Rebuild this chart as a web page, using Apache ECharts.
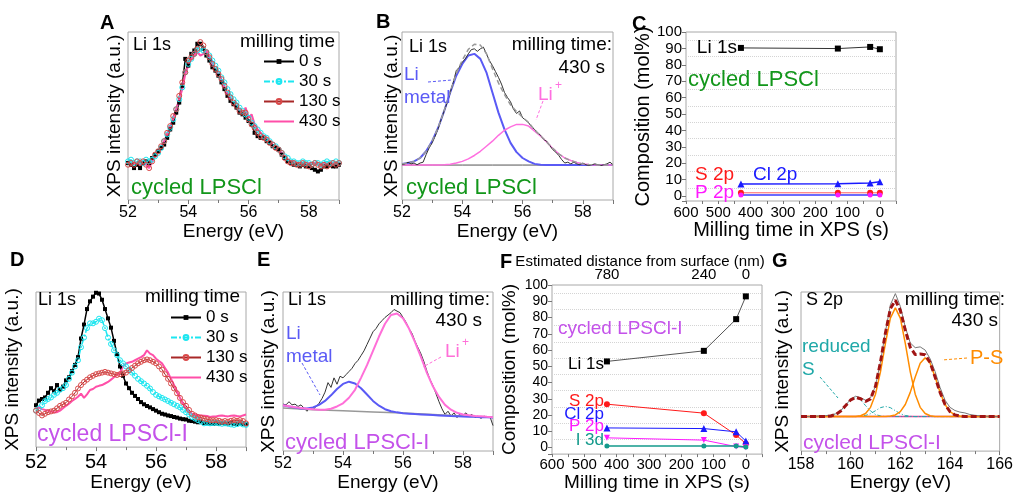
<!DOCTYPE html>
<html><head><meta charset="utf-8">
<script src="https://cdn.jsdelivr.net/npm/echarts@6/dist/echarts.min.js"></script>
<style>html,body{margin:0;padding:0;background:#fff}#c{width:1016px;height:493px}</style>
</head><body><div id="c"></div>
<script>
// ================= DATA =================
// Li 1s spectra sampling (eV)
const liStart = 52.0, rawStep = 0.1, fitStep = 0.2, bgStep = 1.0;
const sStart = 158.0, sStep = 0.2;
const timeTags = ['0 s', '30 s', '130 s', '430 s'];

// Panel A: cycled LPSCl, Li 1s at different milling times (52.0 ... 59.0, step 0.1)
const aLi0 = [22,21,19,21,19,22,23,22,25,27, 29,31,33,37,42,46,52,58,68,84, 80,87,89,93,93,90,86,83,79,77, 74,70,66,62,59,57,55,52,51,49, 47,45,40,38,37,37,35,34,32,31, 30,27,25,23,22,21,21,20,21,20, 20,19,18,17,18,20,20,21,20,20,21];
const aLi30 = [23,24,22,23,23,22,24,23,24,26, 28,31,35,39,43,48,54,60,67,76, 81,84,87,89,90,89,88,86,83,80, 77,73,70,66,63,60,58,55,53,51, 49,46,44,42,40,38,37,35,33,32, 30,28,26,25,23,23,22,22,23,22, 22,21,22,22,21,22,23,22,22,23,22];
const aLi130 = [21,22,21,23,22,23,21,19,23,27, 29,32,35,40,44,50,54,62,70,76, 83,85,87,90,94,92,88,85,81,78, 75,72,68,64,61,58,56,53,52,52, 48,45,43,40,38,37,36,34,33,31, 30,28,25,23,22,22,21,21,22,21, 20,21,22,21,20,21,20,21,22,21,22];
const aLi430 = [22,21,22,22,21,22,21,19,23,26, 29,32,35,39,44,48,54,60,66,75, 80,84,86,88,86,87,89,85,81,77, 75,71,67,63,60,57,56,53,51,55, 49,51,45,42,40,38,36,35,33,31, 30,28,26,24,23,23,22,22,22,21, 22,22,22,21,21,22,21,22,22,21,22];

// Panel B: LPSCl 430 s fit
const bData = [21,21.5,22.5,21.5,22,21,22,22.5,27,31, 34,38,42.5,48,53,58,64,70,77,79, 82,84,87,89.5,90,88.5,90,91,87,83, 80,76.5,73,69,64,61,58.5,54,51.5,53, 49,47.5,46,43.5,42,40,38.5,36,35,32.5, 30,28.5,26.5,24,22,22.5,21.5,22.5,21.5,21, 22,21,20.5,21,21.5,21,20.5,21,21.5,22.5,21];
const bMetal = [21.5,22,23,25,29,35,43,53,64,74, 81,86,87,84,76,64,52,42,34,28.5, 25,23,21.5,21,20.8,20.8,20.8,20.8,20.8,20.8, 20.8,20.8,20.8,20.8,20.8,20.8];
const bLiPlus = [20.8,20.8,20.8,20.8,20.8,20.8,20.9,21,21.3,22, 23,24.5,26.5,29,32,35,38.5,41.5,43.5,45, 45,44,41,38,34.5,30.7,27.5,25,23.5,22.3, 21.5,21.1,20.9,20.8,20.8,20.8];
const bEnvelope = [21.5,22,23,25,29,35,43.1,53.2,64.5,75.2, 83.2,89.7,92.7,92.2,87.2,78.2,69.7,62.7,56.7,52.7, 49.2,46.2,41.7,38.2,34.5,30.7,27.5,25,23.5,22.3, 21.5,21.1,20.9,20.8,20.8,20.8];
const bBackground = [20.8,20.8,20.8,20.8,20.8,20.8,20.8,20.8];

// Panels C and F: composition vs milling time
const millTimes = [430, 130, 30, 0];
const cLi = [90.3, 89.9, 90.9, 89.5];
const cCl = [7.3, 7.5, 7.9, 8.7];
const cS  = [2.0, 2.0, 2.0, 2.0];
const cP  = [0.6, 0.6, 0.6, 0.6];
const fLi = [53, 59.5, 79, 93];
const fS  = [26.7, 21.2, 7.7, 2.4];
const fCl = [12.1, 11.7, 9.7, 4.0];
const fP  = [6.0, 4.6, 0.6, 0.2];
const fI  = [1.0, 1.0, 1.0, 0.4];
const depthTimes = [430, 130, 0];
const depthLabels = ['780', '240', '0'];

// Panel D: cycled LPSCl-I, Li 1s (52.0 ... 59.0, step 0.1)
const dLi0 = [27,30,31,32,35,38,36,40,37,39, 43,45,49,53,58,70,79,89,94,97, 99.5,99,95,89,83,77,68.5,60,52,46, 41,38,35,33,31,29,27.6,26.5,25.6,24.5, 23.5,22.5,21.5,21,20.4,20,19.4,19,18.4,18, 17.8,17,16.8,16.4,16,16.5,15.5,15.5,15.2,15, 15.3,15,15.5,15,15.2,15.5,15,14.8,15.2,15,14.8];
const dLi30 = [23.5,25,27,29.7,31,32,33.7,35,37,38, 40,44,48,52,56,64.4,70.6,76.7,79.8,79.8, 80.8,82.8,81.8,76.7,70.6,66.5,62.4,59.3,56,54, 52,50,48,46,44,42.5,41,39.5,37.8,35.5, 33.7,32.7,31.7,30.7,29.7,28.6,27.6,26.6,25.6,24, 22.5,21,19.4,18.4,17.4,16.4,15.3,15.5,15.3,15.5, 15.7,15.3,15,15.3,15,14.6,14.3,14.8,15.3,14.6,14.3];
const dLi130 = [23.5,22,20.4,21.5,22.5,23,23.5,25,26.6,27.6, 28.6,30.7,32.7,35,37.8,40,42,43.5,45,46, 47,47.5,48,48.5,48,47.5,47,46.5,47,47.5, 48,49.5,51,52.5,54,55,56,56.5,56,55, 54,52,50,47,44,41,37.8,34.7,31.7,29, 26.6,24,21.5,20.4,19.4,19,18.4,18,17.4,17.4, 17.4,17,16.4,16.8,16.4,17,17.4,17,17.4,16.8,15.3];
const dLi430 = [26.6,25.5,24.5,24,23.5,23,22.5,22.5,23.5,25, 26.6,28,29.7,31,32.5,34.5,31.7,34,36.8,37.5, 38.9,39.5,40,41,42,43.5,45,46.5,48,52, 54,54.5,55,56,57,58,59.3,62.4,60.3,59.3, 57,55.5,54,51,48,44,40,36,31.7,28, 24.5,23,21.5,21,20.4,20.4,20.2,20,19.4,19.8, 19.8,20.2,20.4,20,19.8,20.2,20.4,20,19.8,20.4,21];

// Panel E: LPSCl-I 430 s fit
const eData = [29.5,29,31,29,29.5,28,29,27,25,27.5, 26,28,30,33,37,43,40,46,42,47, 46,48,50,52,55,57,60,63,67,71, 75,77,80,82,84,85.5,87,89,88,87, 84,81,77,74,69,65,61,56,50,45, 41,36,31,26.5,23,25,22,24,21,23.5, 22.5,24,22,23,21,22,20.5,22,21,21.5,16];
const eMetal = [28.8,28,27.4,26.8,26.8,27.4,29,31.5,35,39, 42.2,43.6,42.5,39.5,35.5,31.5,28.5,26.3,25,24.3, 23.8,23.5,23.2,23,22.8,22.6,22.4,22.2,22,21.9, 21.7,21.6,21.5,21.3,21.2,21];
const eLiPlus = [28.8,28.2,27.5,27,26.5,26.2,26,26,26.6,28, 30,33.5,38.5,46,54,63,72,80,85.5,86.5, 83.5,77,68.5,59,49,40.5,34,29,26,24, 23,22.5,22,21.8,21.5,21.3];
const eBackground = [27,26,25.3,24.6,23.9,23,22,21];

// Panel G: S 2p, LPSCl-I 430 s (158.0 ... 166.0, step 0.2)
const gData = [21.5,21.8,21.6,22,22.2,22.3,22.6,23.5,25.5,29, 32.5,34.5,33.5,32,33.5,41,56,75,92,99, 91,78,68,65,65.5,63.5,58,50,40,32, 27.5,25.5,24.5,24,23,22.5,22.2,22,21.8,21.7,21.7];
const gEnvelope = [21.7,21.7,21.7,21.7,21.7,21.7,22.1,23,25.2,28.6, 32.2,33.8,32.9,31.2,32.8,40.8,55.9,74.2,89.5,94.8, 88.5,76,65.2,60.7,61,60.6,55.7,46.6,36.9,29.3, 24.8,22.75,22,21.7,21.7,21.7,21.7,21.7,21.7,21.7,21.7];
const gPS32 = [21.7,21.7,21.7,21.7,21.7,21.7,21.7,21.7,21.7,21.7, 21.7,21.7,22.2,23.6,27.5,35.8,49.8,67.7,83.6,90, 83.6,67.7,49.8,35.8,27.5,23.6,22.2,21.7,21.7,21.7, 21.7,21.7,21.7,21.7,21.7,21.7,21.7,21.7,21.7,21.7,21.7];
const gPS12 = [21.7,21.7,21.7,21.7,21.7,21.7,21.7,21.7,21.7,21.7, 21.7,21.7,21.7,21.7,21.7,21.7,21.7,21.7,22,22.75, 24.8,29.3,36.9,46.6,55.2,58.7,55.2,46.6,36.9,29.3, 24.8,22.75,22,21.7,21.7,21.7,21.7,21.7,21.7,21.7,21.7];
const gRed32 = [21.7,21.7,21.7,21.7,21.7,21.7,22.1,23,25.2,28.6, 32.2,33.7,32.2,28.6,25.2,23,22.1,21.7,21.7,21.7, 21.7,21.7,21.7,21.7,21.7,21.7,21.7,21.7,21.7,21.7, 21.7,21.7,21.7,21.7,21.7,21.7,21.7,21.7,21.7,21.7,21.7];
const gRed12 = [21.7,21.7,21.7,21.7,21.7,21.7,21.7,21.7,21.7,21.7, 21.7,21.7,21.9,22.4,23.5,25.4,27.3,28.1,27.3,25.4, 23.5,22.4,21.9,21.7,21.7,21.7,21.7,21.7,21.7,21.7, 21.7,21.7,21.7,21.7,21.7,21.7,21.7,21.7,21.7,21.7,21.7];
const gBaseline = [21.7,21.7,21.7,21.7,21.7];
const gBaseStep = 2.0;

// ================= CHART =================
const FF = 'Liberation Sans, Arial, Helvetica, sans-serif';
const GREEN = '#12961a', VIOLET = '#c452ea', BLUE = '#5a5af5', PINKB = '#ff6fe0', PINKE = '#ff6fd8';
const RED = '#ff1a1a', BLUEC = '#1a1aff', MAG = '#ff19ff', TEAL = '#149a8c', TEALG = '#1fa8a8', ORANGE = '#ff8c00';

function pairs(start, step, vals) { return vals.map((v, i) => [Math.round((start + i * step) * 1000) / 1000, v]); }
function tpairs(vals) { return millTimes.map((t, i) => [t, vals[i]]); }
const evenOnly = v => (Math.abs(v / 2 - Math.round(v / 2)) < 1e-6) ? String(Math.round(v)) : '';

const grids = [
  {left: 128, top: 32, width: 211, height: 168},  // A
  {left: 402, top: 32, width: 211, height: 168},  // B
  {left: 686, top: 32, width: 210, height: 169},  // C
  {left: 36, top: 292, width: 210, height: 163},  // D
  {left: 283, top: 292, width: 210, height: 163}, // E
  {left: 552, top: 285, width: 210, height: 173}, // F
  {left: 801, top: 292, width: 206, height: 166}  // G
].map(g => Object.assign({show: true, borderColor: '#a8a8a8', borderWidth: 1, backgroundColor: 'transparent', containLabel: false}, g));

function specX(gi, min, max, fs, nameGap) {
  return {type: 'value', gridIndex: gi, min, max, interval: 2,
    name: 'Energy (eV)', nameLocation: 'middle', nameGap,
    nameTextStyle: {fontSize: 19, color: '#000', fontFamily: FF},
    axisLine: {show: false, onZero: false},
    axisTick: {show: true, length: 4, lineStyle: {color: '#777'}},
    minorTick: {show: true, splitNumber: 2, length: 3, lineStyle: {color: '#777'}},
    axisLabel: {fontSize: fs, color: '#000', margin: 5, fontFamily: FF, formatter: evenOnly},
    splitLine: {show: false}};
}
function specY(gi, nameGap) {
  return {type: 'value', gridIndex: gi, min: 0, max: 100,
    name: 'XPS intensity (a.u.)', nameLocation: 'middle', nameGap,
    nameTextStyle: {fontSize: 19, color: '#000', fontFamily: FF},
    axisLine: {show: false, onZero: false}, axisTick: {show: false}, axisLabel: {show: false}, splitLine: {show: false}};
}
function compX(gi, nameGap, fsLab, fsName, margin) {
  return {type: 'value', gridIndex: gi, min: -50, max: 600, interval: 50, inverse: true,
    name: 'Milling time in XPS (s)', nameLocation: 'middle', nameGap,
    nameTextStyle: {fontSize: fsName, color: '#000', fontFamily: FF},
    axisLine: {show: false, onZero: false},
    axisTick: {show: true, length: 3, lineStyle: {color: '#777'}},
    axisLabel: {fontSize: fsLab, color: '#000', margin, fontFamily: FF,
      formatter: v => (v >= 0 && v % 100 === 0) ? String(v) : ''},
    splitLine: {show: false}};
}
function compY(gi, min, nameGap, fsLab, fsName) {
  return {type: 'value', gridIndex: gi, min, max: 100, splitNumber: 10, minInterval: 10, maxInterval: 10,
    name: 'Composition (mol%)', nameLocation: 'middle', nameGap,
    nameTextStyle: {fontSize: fsName, color: '#000', fontFamily: FF},
    axisLine: {show: false, onZero: false},
    axisTick: {show: true, length: 4, lineStyle: {color: '#777'}},
    axisLabel: {fontSize: fsLab, color: '#000', margin: 4, fontFamily: FF,
      formatter: v => (v >= 0) ? String(v) : ''},
    splitLine: {show: false},
    minorTick: {show: false, splitNumber: 2},
    minorSplitLine: {show: true, lineStyle: {color: '#d4d4d4', type: 'dotted'}}};
}

const xAxes = [
  specX(0, 52, 59, 16, 19),
  specX(1, 52, 59, 16, 19),
  compX(2, 19, 15, 20, 4),
  specX(3, 52, 59, 20, 22),
  specX(4, 52, 59, 16, 22),
  compX(5, 16, 15, 19, 3),
  specX(6, 158, 166, 16, 17),
  // F top axis: estimated depth
  {type: 'value', gridIndex: 5, position: 'top', min: -50, max: 600, interval: 10, inverse: true,
    axisLine: {show: false, onZero: false}, axisTick: {show: false}, splitLine: {show: false},
    axisLabel: {fontSize: 15, color: '#000', margin: 3, fontFamily: FF,
      formatter: v => { const k = depthTimes.indexOf(Math.round(v)); return k >= 0 ? depthLabels[k] : ''; }}}
];
const yAxes = [
  specY(0, 4), specY(1, 1), compY(2, -3, 31, 15, 20),
  specY(3, 14), specY(4, 5), compY(5, -4, 33, 14, 19), specY(6, 9)
];

const noAnim = {animation: false, silent: true};
function timeSeries(gi, vals) {
  const defs = [
    {name: timeTags[0], symbol: 'rect', symbolSize: 4, itemStyle: {color: '#000'}, lineStyle: {color: '#000', width: 1.5}},
    {name: timeTags[1], symbol: 'circle', symbolSize: 5, itemStyle: {color: 'rgba(255,255,255,0)', borderColor: '#1de6f0', borderWidth: 1}, lineStyle: {color: '#1de6f0', width: 1.5, type: [6, 2, 2, 2]}},
    {name: timeTags[2], symbol: 'circle', symbolSize: 5, itemStyle: {color: 'rgba(255,255,255,0)', borderColor: '#d94a4a', borderWidth: 1}, lineStyle: {color: '#a82828', width: 1}},
    {name: timeTags[3], symbol: 'none', itemStyle: {color: '#ff4fa8'}, lineStyle: {color: '#ff4fa8', width: 2}}
  ];
  return defs.map((d, i) => Object.assign({type: 'line', xAxisIndex: gi, yAxisIndex: gi, showSymbol: d.symbol !== 'none',
    data: pairs(liStart, rawStep, vals[i])}, noAnim, d));
}
function ln(name, gi, data, lineStyle, extra) {
  return Object.assign({type: 'line', name, xAxisIndex: gi, yAxisIndex: gi, data, symbol: 'none', lineStyle, itemStyle: {color: lineStyle.color}}, noAnim, extra || {});
}
function comp(name, gi, vals, color, lineColor, symbol, size, lw, rot) {
  return Object.assign({type: 'line', name, xAxisIndex: gi, yAxisIndex: gi, data: tpairs(vals), symbol, symbolSize: size,
    symbolRotate: rot || 0, itemStyle: {color}, lineStyle: {color: lineColor, width: lw}}, noAnim);
}

const series = [
  ...timeSeries(0, [aLi0, aLi30, aLi130, aLi430]),
  // B
  ln('B bg', 1, pairs(liStart, bgStep, bBackground), {color: '#555', width: 1}),
  ln('B metal', 1, pairs(liStart, fitStep, bMetal), {color: BLUE, width: 2}),
  ln('B Li+', 1, pairs(liStart, fitStep, bLiPlus), {color: PINKB, width: 1.5}),
  ln('B data', 1, pairs(liStart, rawStep, bData), {color: '#333', width: 1}),
  ln('B env', 1, pairs(liStart, fitStep, bEnvelope), {color: '#999', width: 1.5, type: [5, 3]}),
  // C
  comp('C Li', 2, cLi, '#000', '#333', 'rect', 6, 1),
  comp('C Cl', 2, cCl, BLUEC, BLUEC, 'triangle', 7, 1.5),
  comp('C S', 2, cS, RED, '#ff6060', 'circle', 6, 1),
  comp('C P', 2, cP, MAG, '#3b3bff', 'circle', 5, 1.5),
  // D
  ...timeSeries(3, [dLi0, dLi30, dLi130, dLi430]),
  // E
  ln('E data', 4, pairs(liStart, rawStep, eData), {color: '#333', width: 1}),
  ln('E bg', 4, pairs(liStart, bgStep, eBackground), {color: '#999', width: 1.5}),
  ln('E metal', 4, pairs(liStart, fitStep, eMetal), {color: BLUE, width: 2}),
  ln('E Li+', 4, pairs(liStart, fitStep, eLiPlus), {color: PINKE, width: 2}),
  // F
  comp('F Li', 5, fLi, '#000', '#555', 'rect', 6, 1),
  comp('F S', 5, fS, RED, RED, 'circle', 6, 1),
  comp('F Cl', 5, fCl, BLUEC, BLUEC, 'triangle', 7, 1),
  comp('F P', 5, fP, MAG, MAG, 'triangle', 6, 1, 180),
  comp('F I', 5, fI, TEAL, TEAL, 'circle', 5, 1.5),
  // G
  ln('G base', 6, pairs(sStart, gBaseStep, gBaseline), {color: '#e83c9a', width: 1.5}),
  ln('G red32', 6, pairs(sStart, sStep, gRed32), {color: TEALG, width: 1, type: [4, 2, 1, 2]}),
  ln('G red12', 6, pairs(sStart, sStep, gRed12), {color: TEALG, width: 1, type: [4, 2, 1, 2]}),
  ln('G ps32', 6, pairs(sStart, sStep, gPS32), {color: ORANGE, width: 1.5}),
  ln('G ps12', 6, pairs(sStart, sStep, gPS12), {color: ORANGE, width: 1.5}),
  ln('G data', 6, pairs(sStart, sStep, gData), {color: '#777', width: 1}),
  ln('G env', 6, pairs(sStart, sStep, gEnvelope), {color: '#a01414', width: 3, type: [6, 3]})
];

function T(x, y, text, fs, color, align, weight) {
  return {type: 'text', x, y, z: 100, silent: true,
    style: {text, fill: color || '#000', fontSize: fs, fontFamily: FF, fontWeight: weight || 'normal', align: align || 'left', verticalAlign: 'middle'}};
}
function L(x1, y1, x2, y2, color) {
  return {type: 'line', z: 100, silent: true, shape: {x1, y1, x2, y2}, style: {stroke: color, lineWidth: 1, lineDash: [3, 2]}};
}
const graphics = [
  // A
  T(100, 23, 'A', 20, '#000', 'left', 'bold'), T(133, 45, 'Li 1s', 18), T(335, 42, 'milling time', 19, '#000', 'right'), T(131, 188, 'cycled LPSCl', 22, GREEN),
  // B
  T(376, 22, 'B', 20, '#000', 'left', 'bold'), T(409, 47, 'Li 1s', 18), T(612, 45, 'milling time:', 19, '#000', 'right'), T(605, 68, '430 s', 19, '#000', 'right'),
  T(404, 75, 'Li', 19, BLUE), T(404, 98, 'metal', 19, BLUE), L(428, 82, 452, 80, BLUE),
  T(538, 95, 'Li', 19, PINKB), T(555, 86, '+', 12, PINKB), L(543, 101, 536, 120, PINKB), T(406, 188, 'cycled LPSCl', 22, GREEN),
  // C
  T(632, 24, 'C', 20, '#000', 'left', 'bold'), T(737, 48, 'Li 1s', 19, '#000', 'right'), T(688, 80, 'cycled LPSCl', 22, GREEN),
  T(695, 175, 'S 2p', 19, RED), T(753, 175, 'Cl 2p', 19, BLUEC), T(695, 193, 'P 2p', 19, MAG),
  // D
  T(10, 260, 'D', 20, '#000', 'left', 'bold'), T(38, 300, 'Li 1s', 18), T(240, 297, 'milling time', 19, '#000', 'right'), T(37, 435, 'cycled LPSCl-I', 23, VIOLET),
  // E
  T(257, 260, 'E', 20, '#000', 'left', 'bold'), T(288, 300, 'Li 1s', 18), T(490, 300, 'milling time:', 19, '#000', 'right'), T(482, 321, '430 s', 19, '#000', 'right'),
  T(286, 334, 'Li', 19, BLUE), T(286, 357, 'metal', 19, BLUE), L(302, 363, 320, 395, BLUE),
  T(445, 352, 'Li', 19, PINKE), T(462, 343, '+', 12, PINKE), L(441, 357, 423, 367, PINKE), T(285, 443, 'cycled LPSCl-I', 22, VIOLET),
  // F
  T(500, 262, 'F', 20, '#000', 'left', 'bold'), T(640, 262, 'Estimated distance from surface (nm)', 15, '#000', 'center'),
  T(558, 329, 'cycled LPSCl-I', 19, VIOLET), T(604, 364, 'Li 1s', 17, '#000', 'right'),
  T(604, 401, 'S 2p', 17, RED, 'right'), T(604, 414, 'Cl 2p', 17, BLUEC, 'right'), T(604, 426, 'P 2p', 17, MAG, 'right'), T(604, 440, 'I 3d', 17, TEAL, 'right'),
  // G
  T(772, 261, 'G', 20, '#000', 'left', 'bold'), T(806, 300, 'S 2p', 18), T(1005, 300, 'milling time:', 19, '#000', 'right'), T(998, 321, '430 s', 19, '#000', 'right'),
  T(802, 347, 'reduced', 19, TEALG), T(802, 370, 'S', 19, TEALG), L(820, 377, 838, 398, TEALG),
  T(970, 358, 'P-S', 20, ORANGE), L(967, 358, 942, 360, ORANGE), T(803, 443, 'cycled LPSCl-I', 21, VIOLET)
];

function legendAt(left, top) {
  return {orient: 'vertical', left, top, itemWidth: 30, itemHeight: 6, itemGap: 3, padding: 0, selectedMode: false,
    data: [timeTags[0], timeTags[1], timeTags[2], {name: timeTags[3], itemStyle: {opacity: 0}}],
    textStyle: {fontSize: 17, lineHeight: 17, color: '#000', fontFamily: FF}};
}

const chart = echarts.init(document.getElementById('c'), null, {renderer: 'canvas'});
chart.setOption({
  animation: false,
  backgroundColor: '#fff',
  textStyle: {fontFamily: FF},
  grid: grids,
  xAxis: xAxes,
  yAxis: yAxes,
  legend: [legendAt(263, 53), legendAt(170, 309)],
  series,
  graphic: graphics
});
</script></body></html>
